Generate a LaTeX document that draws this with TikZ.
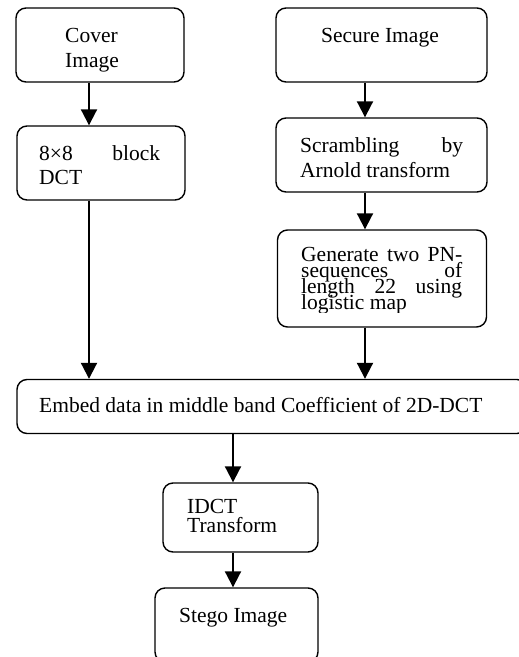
\documentclass[tikz,border=0pt]{standalone}
\usepackage{fontspec}
\setmainfont{Liberation Serif}
\usetikzlibrary{arrows.meta}
\begin{document}
\begin{tikzpicture}[x=1pt,y=-1pt,
  box/.style={draw=black,line width=1.4pt,rounded corners=10pt,inner sep=0pt},
  arr/.style={line width=2pt,-{Triangle[length=16pt,width=16pt]}},
  txt/.style={inner sep=0pt,anchor=base west,font=\fontsize{21.5}{24}\selectfont}]
\useasboundingbox (0,0) rectangle (519,657);
\clip (0,0) rectangle (519,657);
\fill[white] (0,0) rectangle (519,657);
% boxes
\node[box,minimum width=168pt,minimum height=74pt] (cover) at (100,45) {};
\node[box,minimum width=168pt,minimum height=74pt] (dct) at (101,163) {};
\node[box,minimum width=211pt,minimum height=74pt] (secure) at (381.5,45) {};
\node[box,minimum width=211pt,minimum height=74pt] (scram) at (381.5,155) {};
\node[box,minimum width=209pt,minimum height=97pt] (gen) at (382,278.5) {};
\node[box,minimum width=510pt,minimum height=54pt] (embed) at (272,406.5) {};
\node[box,minimum width=155pt,minimum height=69pt] (idct) at (240.5,517.5) {};
\node[box,minimum width=163pt,minimum height=74pt] (stego) at (236.5,625) {};
% arrow columns
\coordinate (xl) at (89,0);
\coordinate (xr) at (365,0);
\coordinate (xm) at (233,0);
\draw[arr] (cover.south -| xl) -- (dct.north -| xl);
\draw[arr] (secure.south -| xr) -- (scram.north -| xr);
\draw[arr] (scram.south -| xr) -- (gen.north -| xr);
\draw[arr] (dct.south -| xl) -- (embed.north -| xl);
\draw[arr] (gen.south -| xr) -- (embed.north -| xr);
\draw[arr] (embed.south -| xm) -- (idct.north -| xm);
\draw[arr] (idct.south -| xm) -- (stego.north -| xm);
% texts
\node[txt] (t1) at (65,42) {Cover};
\node[txt] (t2) at (65,67) {Image};
\node[txt] (t3) at (39,160) {\makebox[121pt][s]{8×8 block}};
\node[txt] (t4) at (39,184) {DCT};
\node[txt] (t5) at (321,42) {Secure Image};
\node[txt] (t6) at (300,152) {\makebox[163pt][s]{Scrambling by}};
\node[txt] (t7) at (300,177) {Arnold transform};
\begin{scope}
\clip (280,232) rectangle (485,312);
\node[txt] (t8) at (301,261) {\makebox[161pt][s]{Generate two PN-}};
\node[txt] (t9) at (301,277) {\makebox[161pt][s]{sequences of}};
\node[txt] (t10) at (301,293) {\makebox[161pt][s]{length 22 using}};
\node[txt] (t11) at (301,309) {logistic map};
\end{scope}
\node[txt] (t12) at (39,412) {Embed data in middle band Coefficient of 2D-DCT};
\node[txt] (t13) at (187,513) {IDCT};
\node[txt] (t14) at (187,532) {Transform};
\node[txt] (t15) at (179,622) {Stego Image};
\end{tikzpicture}
\end{document}
